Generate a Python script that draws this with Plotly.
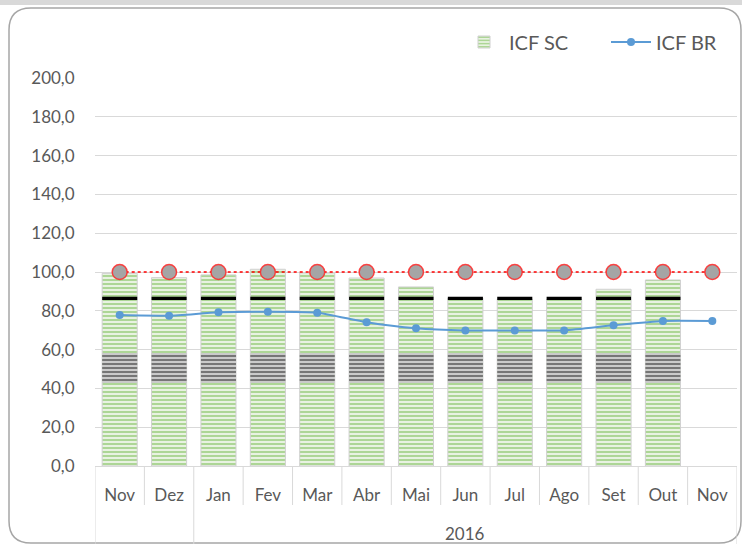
import plotly.graph_objects as go

months = ["Nov", "Dez", "Jan", "Fev", "Mar", "Abr", "Mai", "Jun", "Jul", "Ago", "Set", "Out", "Nov"]
year_label = "2016"
icf_sc = [99.3, 97.1, 98.5, 101.4, 99.5, 96.9, 92.3, 86.6, 86.1, 85.9, 91.1, 95.9, None]
icf_br = [77.8, 77.5, 79.2, 79.5, 79.0, 74.1, 71.0, 69.9, 69.9, 69.9, 72.5, 74.7, 74.7]
ref_line = [100.0] * 13
band_low_base = [42.8] * 12 + [None]
band_low_h = [15.4] * 12 + [None]
band_high_base = [85.6] * 12 + [None]
band_high_h = [1.7] * 12 + [None]
y_ticks = [0, 20, 40, 60, 80, 100, 120, 140, 160, 180, 200]
y_tick_text = ["0,0", "20,0", "40,0", "60,0", "80,0", "100,0", "120,0", "140,0", "160,0", "180,0", "200,0"]

xs = list(range(len(months)))
GREEN = "#6BB544"
GRID = "#D9D9D9"
TXT = "#595959"
FONT = "Lato"

fig = go.Figure()
fig.add_trace(go.Bar(
    x=xs, y=icf_sc, name="ICF SC",
    marker=dict(color="#EEF6E9", line=dict(width=1, color="#D0D0D0"),
                pattern=dict(shape="-", fgcolor=GREEN, bgcolor="#EEF6E9", size=4, solidity=0.55)),
))
fig.add_trace(go.Bar(
    x=xs, y=band_low_h, base=band_low_base, showlegend=False, hoverinfo="skip",
    marker=dict(color="white", line=dict(width=0),
                pattern=dict(shape="-", fgcolor="#000000", bgcolor="#EDEDED", size=4, solidity=0.65)),
))
fig.add_trace(go.Bar(
    x=xs, y=band_high_h, base=band_high_base, showlegend=False, hoverinfo="skip",
    marker=dict(color="#000000", line=dict(width=0)),
))
fig.add_trace(go.Scatter(
    x=xs, y=ref_line, mode="lines+markers", showlegend=False,
    line=dict(color="#FF0000", width=1.5, dash="dot"),
    marker=dict(symbol="circle", size=15, color="#A5A5A5", line=dict(color="rgba(255,40,40,0.85)", width=1.5)),
))
fig.add_trace(go.Scatter(
    x=xs, y=icf_br, mode="lines+markers", name="ICF BR",
    line=dict(color="#5B9BD5", width=2, shape="spline", smoothing=0.6),
    marker=dict(symbol="circle", size=8, color="#5B9BD5"),
))

# plot area: x 95..737 px, y 78..466 px
ML, MR, MT, MB = 95, 5, 78, 78
W, H = 742.0 - ML - MR, 544.0 - MT - MB
def px(v): return (v - ML) / W
def py(v): return (544 - MB - v) / H
L, R, T, B = px(9), px(741), py(8), py(543)
rh, rv = 22 / W, 22 / H
path = (f"M {L},{T - rv} L {L},{B + rv} Q {L},{B} {L + rh},{B} L {R - rh},{B} "
        f"Q {R},{B} {R},{B + rv} L {R},{T - rv} Q {R},{T} {R - rh},{T} L {L + rh},{T} Q {L},{T} {L},{T - rv} Z")

shapes = [
    dict(type="rect", xref="paper", yref="paper", x0=-0.3, x1=1.3, y0=py(5), y1=py(-2),
         fillcolor="#D9D9D9", line=dict(width=0), layer="below"),
    dict(type="path", xref="paper", yref="paper", path=path,
         line=dict(color="#A6A6A6", width=1.5), fillcolor="rgba(0,0,0,0)", layer="below"),
]
# category separators (short) and group separators (full height)
group_bounds = {-0.5, 1.5, len(months) - 0.5}
for i in range(len(months) + 1):
    xb = i - 0.5
    shapes.append(dict(type="line", xref="x", yref="paper", x0=xb, x1=xb, y0=0,
                       y1=py(544) if xb in group_bounds else py(505),
                       line=dict(color=GRID, width=1)))

fig.update_layout(
    width=742, height=544,
    margin=dict(l=ML, r=MR, t=MT, b=MB, autoexpand=False),
    paper_bgcolor="white", plot_bgcolor="white",
    barmode="overlay", bargap=0.29,
    font=dict(family=FONT, size=16, color=TXT),
    legend=dict(orientation="h", x=px(459), xanchor="left", y=py(42), yanchor="middle",
                font=dict(size=20, color=TXT), bgcolor="rgba(0,0,0,0)",
                entrywidth=92, entrywidthmode="pixels", itemwidth=40),
    showlegend=True,
    shapes=shapes,
    annotations=[dict(text=year_label, x=(2 + len(months) - 1) / 2, xref="x", y=py(533), yref="paper",
                      showarrow=False, font=dict(size=17, color=TXT), yanchor="middle")],
)
fig.update_yaxes(range=[0, 200], tickvals=y_ticks, ticktext=y_tick_text,
                 showgrid=True, gridcolor=GRID, gridwidth=1, zeroline=False,
                 showline=False, ticks="outside", ticklen=16, tickcolor="rgba(0,0,0,0)",
                 tickfont=dict(size=17, color=TXT))
fig.update_xaxes(range=[-0.5, len(months) - 0.5], tickvals=xs, ticktext=months,
                 showgrid=False, zeroline=False, showline=True, linecolor=GRID,
                 ticks="outside", ticklen=14, tickcolor="rgba(0,0,0,0)",
                 tickfont=dict(size=17, color=TXT))

fig.write_html("out.html", config={"displayModeBar": False},
               post_script="document.body.style.margin='0';")
